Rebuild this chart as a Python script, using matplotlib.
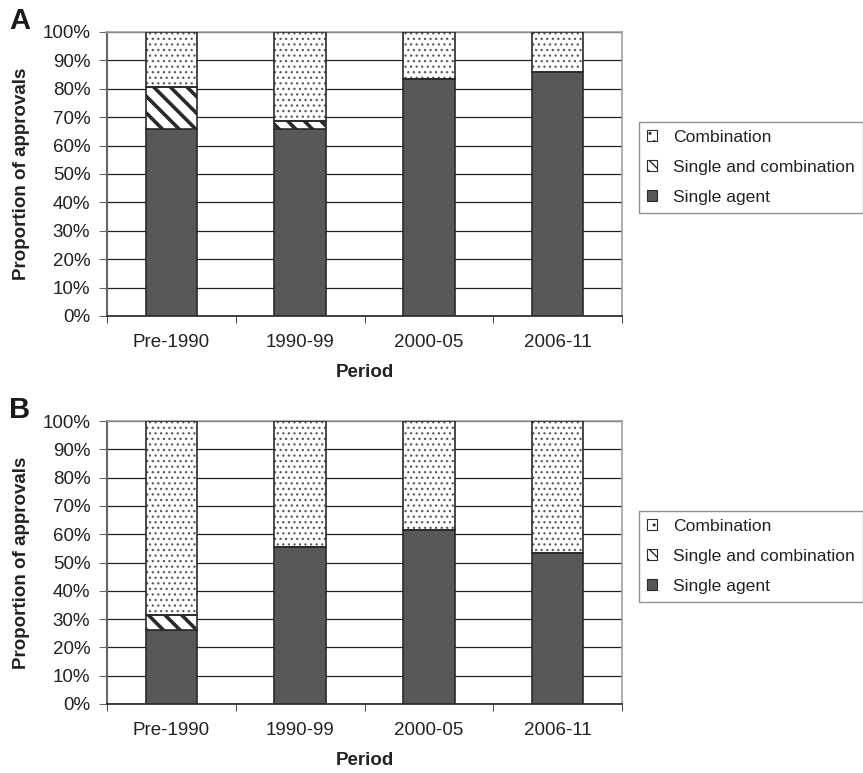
import matplotlib.pyplot as plt
import matplotlib.patches as mpatches
import numpy as np

plt.rcParams['font.family'] = ['Liberation Sans', 'DejaVu Sans']

periods = ['Pre-1990', '1990-99', '2000-05', '2006-11']
series_names = ['Combination', 'Single and combination', 'Single agent']

# panel A (percent of approvals)
a_single = [66, 66, 83.5, 86]
a_both = [14.5, 2.5, 0, 0]
a_combo = [19.5, 31.5, 16.5, 14]

# panel B
b_single = [26, 55.5, 61.5, 53.5]
b_both = [5.5, 0, 0, 0]
b_combo = [68.5, 44.5, 38.5, 46.5]

dark = '#57585a'
edge = '#2a2a2a'
dot_col = '#5a5a5a'
fs = 13.5

W, H = 863, 773


def hatch_lw(patches, lw):
    for p in patches:
        if hasattr(p, 'set_hatch_linewidth'):
            p.set_hatch_linewidth(lw)


def draw_panel(ax, single, both, combo, letter):
    x = np.arange(len(periods))
    single = np.array(single)
    both = np.array(both)
    combo = np.array(combo)
    width = 0.4

    ax.set_axisbelow(True)
    ax.yaxis.grid(True, color='#222222', linewidth=0.9)

    ax.bar(x, single, width, color=dark, edgecolor=edge, linewidth=1.2, zorder=3)
    b2 = ax.bar(x, both, width, bottom=single, color='white', edgecolor=edge,
                hatch='\\\\', linewidth=0, zorder=3)
    hatch_lw(b2, 2.6)
    b3 = ax.bar(x, combo, width, bottom=single + both, color='white', edgecolor=dot_col,
                hatch='...', linewidth=0, zorder=3)
    hatch_lw(b3, 0.9)
    # outlines on top of the hatched segments
    for bot, h in [(single, both), (single + both, combo)]:
        ax.bar(x, h, width, bottom=bot, fill=False, edgecolor=edge, linewidth=1.2, zorder=4)

    ax.set_xlim(-0.5, len(periods) - 0.5)
    ax.set_ylim(0, 100)
    ax.set_yticks(np.arange(0, 101, 10))
    ax.set_yticklabels([f'{v}%' for v in range(0, 101, 10)], fontsize=fs, color='#222222')
    ax.set_xticks(x)
    ax.set_xticklabels(periods, fontsize=fs, color='#222222')
    ax.set_xticks(np.arange(-0.5, len(periods)), minor=True)
    ax.tick_params(axis='x', which='major', length=0, pad=13)
    ax.tick_params(axis='x', which='minor', length=5, direction='out', color='#222222')
    ax.tick_params(axis='y', length=6, direction='out', color='#666666', pad=6)

    for s in ['top', 'right']:
        ax.spines[s].set_color('#a0a0a0')
        ax.spines[s].set_linewidth(1.2)
    ax.spines['left'].set_color('#666666')
    ax.spines['left'].set_linewidth(1.5)
    ax.spines['bottom'].set_color('#222222')
    ax.spines['bottom'].set_linewidth(1.2)

    ax.set_xlabel('Period', fontsize=fs, fontweight='bold', color='#222222', labelpad=9)
    ax.set_ylabel('Proportion of approvals', fontsize=fs, fontweight='bold', color='#222222',
                  labelpad=9)

    handles = [
        mpatches.Patch(facecolor='white', edgecolor=edge, hatch='..', linewidth=0.8),
        mpatches.Patch(facecolor='white', edgecolor=edge, hatch='\\\\\\', linewidth=0.8),
        mpatches.Patch(facecolor=dark, edgecolor=edge, linewidth=0.8),
    ]
    pos = ax.get_position()
    leg = ax.figure.legend(handles, series_names, loc='upper left',
                           bbox_to_anchor=(639 / W, pos.y1 - 90 / H),
                           fontsize=12.6, frameon=True, fancybox=False,
                           handlelength=0.6, handleheight=0.6, handletextpad=0.9,
                           labelspacing=0.85, borderpad=0.45, borderaxespad=0)
    leg.get_frame().set_edgecolor('#777777')
    leg.get_frame().set_linewidth(1.0)
    for t in leg.get_texts():
        t.set_color('#222222')

    ax.figure.text(9 / W, pos.y1 - 3 / H, letter, fontsize=21, fontweight='bold',
                   ha='left', va='bottom', color='#1a1a1a')


fig = plt.figure(figsize=(W / 100, H / 100), dpi=100)
ax_a = fig.add_axes([107 / W, (H - 316) / H, (622 - 107) / W, 284 / H])
ax_b = fig.add_axes([107 / W, (H - 704) / H, (622 - 107) / W, 283 / H])

draw_panel(ax_a, a_single, a_both, a_combo, 'A')
draw_panel(ax_b, b_single, b_both, b_combo, 'B')

fig.savefig('out.png', dpi=100)
